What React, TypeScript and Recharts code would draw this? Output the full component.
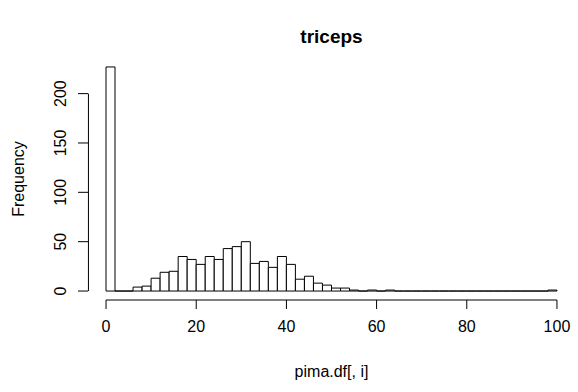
import React from "react";
import { BarChart, Bar, XAxis, YAxis, ReferenceLine } from "recharts";

// Histogram of pima.df$triceps, bins of width 2 on [0, 100]
const binStarts: number[] = Array.from({ length: 50 }, (_, i) => i * 2);
const counts: number[] = [
  227, 0, 0, 4, 5, 13, 19, 20, 35, 32,
  27, 35, 32, 43, 45, 50, 28, 30, 24, 35,
  27, 12, 15, 8, 6, 3, 3, 1, 0, 1,
  0, 1, 0, 0, 0, 0, 0, 0, 0, 0,
  0, 0, 0, 0, 0, 0, 0, 0, 0, 1,
];
const xTicks: number[] = [0, 20, 40, 60, 80, 100];
const yTicks: number[] = [0, 50, 100, 150, 200];
const title = "triceps";
const xLabel = "pima.df[, i]";
const yLabel = "Frequency";

const data = binStarts.map((s, i) => ({
  bin: `${s}-${s + 2}`,
  mid: s + 1,
  count: counts[i],
}));

const maxCount = Math.max(...counts);
const yPad = maxCount * 0.04;

const HistRect = (props: any) => {
  const { x, y, width, height } = props;
  if (x == null || y == null || width == null) return null;
  const h = height || 0;
  return (
    <path
      d={`M${x},${y} h${width} v${h} h${-width} Z`}
      fill="#ffffff"
      stroke="#000000"
      strokeWidth={1}
    />
  );
};

const YTick = (props: any) => {
  const { x, y, payload } = props;
  return (
    <text
      transform={`translate(${x},${y}) rotate(-90)`}
      textAnchor="middle"
      fontSize={16}
      fill="#000"
    >
      {payload.value}
    </text>
  );
};

export default function App() {
  return (
    <div
      style={{
        position: "absolute",
        left: 0,
        top: 0,
        width: 578,
        height: 392,
        background: "#fff",
        fontFamily: "'Liberation Sans', Arial, sans-serif",
      }}
    >
      <BarChart
        width={578}
        height={392}
        data={data}
        margin={{ top: 58, right: 3, bottom: 0, left: 0 }}
        barCategoryGap={0}
        barGap={0}
      >
        <XAxis
          xAxisId="cat"
          dataKey="bin"
          hide
          height={0}
          orientation="top"
          padding={{ left: 18, right: 18 }}
        />
        <XAxis
          xAxisId="num"
          dataKey="mid"
          type="number"
          domain={[-4, 104]}
          ticks={xTicks}
          allowDataOverflow
          axisLine={false}
          tickLine={{ stroke: "#000" }}
          tickSize={9}
          tickMargin={12}
          height={92}
          tick={{ fill: "#000", fontSize: 16 }}
          interval={0}
        />
        <YAxis
          type="number"
          domain={[-yPad, maxCount + yPad]}
          ticks={yTicks}
          allowDataOverflow
          axisLine={false}
          tickLine={{ stroke: "#000" }}
          tickSize={10}
          tickMargin={12}
          width={88}
          tick={<YTick />}
          interval={0}
        />
        <Bar
          xAxisId="cat"
          dataKey="count"
          isAnimationActive={false}
          shape={<HistRect />}
        />
        <ReferenceLine
          xAxisId="num"
          segment={[{ x: -3.9, y: 0 }, { x: -3.9, y: 200 }]}
          stroke="#000"
          strokeWidth={1}
          ifOverflow="visible"
        />
        <ReferenceLine
          xAxisId="num"
          segment={[{ x: 0, y: -yPad }, { x: 100, y: -yPad }]}
          stroke="#000"
          strokeWidth={1}
          ifOverflow="visible"
        />
      </BarChart>
      <svg
        width={578}
        height={392}
        style={{ position: "absolute", left: 0, top: 0, pointerEvents: "none" }}
      >
        <text x={331.5} y={43} textAnchor="middle" fontSize={19} fontWeight="bold" fill="#000">
          {title}
        </text>
        <text x={331.5} y={377} textAnchor="middle" fontSize={16} fill="#000">
          {xLabel}
        </text>
        <text
          transform="translate(24,179) rotate(-90)"
          textAnchor="middle"
          fontSize={16}
          fill="#000"
        >
          {yLabel}
        </text>
      </svg>
    </div>
  );
}
